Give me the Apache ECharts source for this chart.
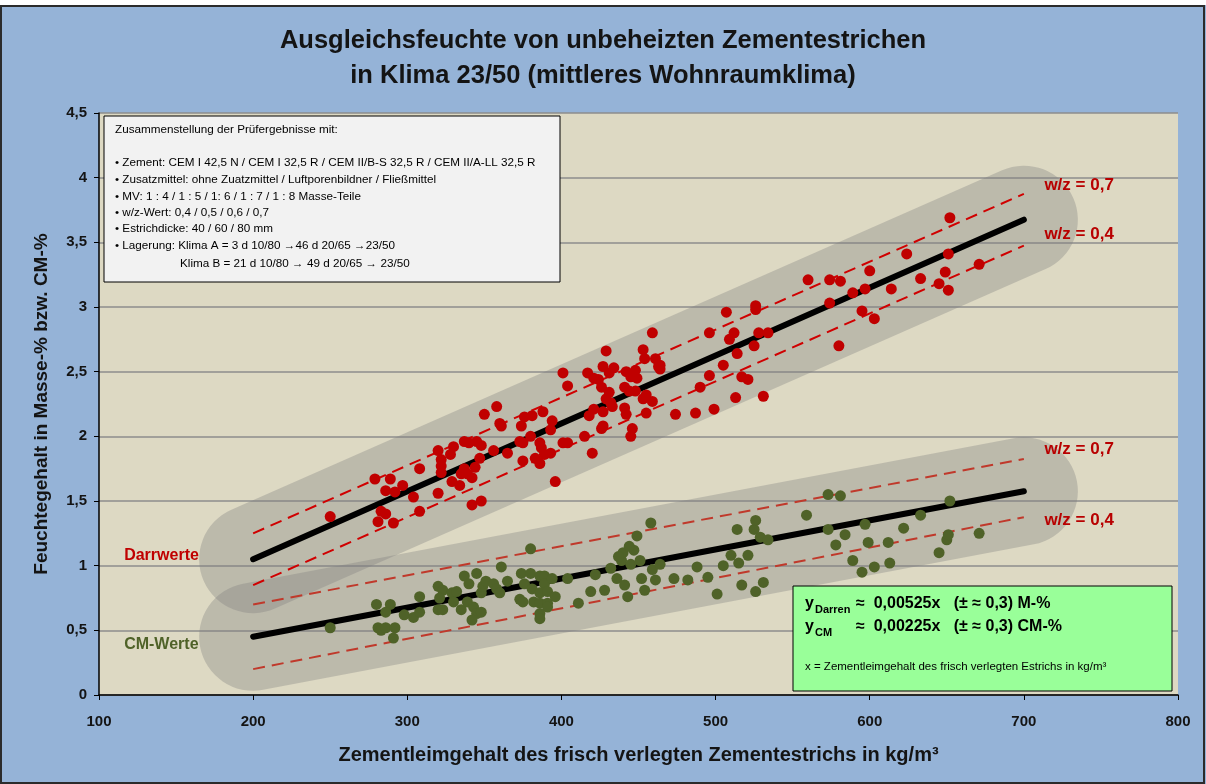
<!DOCTYPE html>
<html>
<head>
<meta charset="utf-8">
<script src="https://cdn.jsdelivr.net/npm/echarts@6/dist/echarts.min.js"></script>
<style>
  html, body { margin: 0; padding: 0; background: #fff; }
  #chart { width: 1206px; height: 784px; }
</style>
</head>
<body>
<div id="chart"></div>
<script>
// Darrwerte (M-%) und CM-Werte
const darrPoints = [
  [250,1.38],[279,1.67],[289,1.67],[286,1.58],[292,1.57],[297,1.62],[304,1.53],[308,1.75],[320,1.56],[308,1.42],
  [283,1.42],[286,1.40],[281,1.34],[291,1.33],[320,1.89],[322,1.82],[322,1.77],[322,1.72],[328,1.86],[330,1.92],
  [329,1.65],[334,1.62],[335,1.71],[337,1.75],[339,1.71],[342,1.68],[344,1.76],[342,1.47],[348,1.50],[337,1.96],
  [340,1.95],[345,1.96],[348,1.93],[350,2.17],[356,1.89],[347,1.83],[358,2.23],[360,2.10],[361,2.08],[365,1.87],
  [374,2.08],[376,2.15],[381,2.16],[388,2.19],[394,2.12],[380,2.00],[373,1.96],[375,1.95],[386,1.95],[387,1.91],
  [393,2.05],[389,1.86],[393,1.87],[383,1.83],[375,1.81],[386,1.79],[401,1.95],[404,1.95],[415,2.00],[420,1.87],
  [396,1.65],[401,2.49],[404,2.39],[417,2.49],[421,2.45],[424,2.44],[426,2.38],[427,2.54],[429,2.66],[431,2.49],
  [434,2.53],[431,2.34],[429,2.29],[432,2.26],[433,2.23],[421,2.21],[418,2.16],[427,2.19],[426,2.06],[427,2.08],
  [441,2.22],[442,2.17],[446,2.06],[445,2.00],[442,2.50],[445,2.46],[448,2.51],[449,2.45],[441,2.38],[444,2.35],
  [448,2.35],[453,2.67],[454,2.60],[459,2.80],[453,2.29],[455,2.32],[459,2.27],[455,2.18],[461,2.60],[463,2.54],
  [464,2.55],[464,2.52],[474,2.17],[487,2.18],[499,2.21],[490,2.38],[496,2.47],[505,2.55],[496,2.80],[507,2.96],
  [512,2.80],[509,2.75],[514,2.64],[517,2.46],[521,2.44],[513,2.30],[531,2.31],[526,3.01],[526,2.98],[525,2.70],
  [528,2.80],[534,2.80],[560,3.21],[574,3.21],[581,3.20],[574,3.03],[580,2.70],[589,3.11],[597,3.14],[600,3.28],
  [595,2.97],[603,2.91],[614,3.14],[624,3.41],[633,3.22],[645,3.18],[649,3.27],[651,3.13],[651,3.41],[652,3.69],
  [671,3.33]
];
const cmPoints = [
  [250,0.52],[280,0.70],[289,0.70],[286,0.64],[281,0.52],[283,0.50],[286,0.52],[292,0.52],[291,0.44],[298,0.62],
  [304,0.60],[308,0.64],[308,0.76],[320,0.84],[323,0.81],[321,0.75],[320,0.66],[323,0.66],[329,0.79],[330,0.72],
  [332,0.80],[335,0.66],[337,0.92],[340,0.86],[345,0.94],[339,0.72],[343,0.68],[345,0.63],[342,0.58],[348,0.64],
  [348,0.79],[349,0.84],[351,0.88],[356,0.86],[358,0.82],[360,0.79],[361,0.99],[365,0.88],[374,0.94],[380,0.94],
  [376,0.86],[381,0.82],[373,0.74],[375,0.72],[382,0.72],[386,0.92],[389,0.92],[389,0.86],[394,0.90],[386,0.79],
  [391,0.80],[386,0.71],[391,0.71],[391,0.68],[386,0.63],[386,0.59],[396,0.76],[380,1.13],[404,0.90],[411,0.71],
  [419,0.80],[422,0.93],[428,0.81],[432,0.98],[436,0.90],[439,1.04],[441,0.85],[445,1.01],[447,1.12],[449,1.23],
  [451,1.04],[452,0.90],[454,0.81],[459,0.97],[461,0.89],[464,1.01],[458,1.33],[443,0.76],[440,1.10],[444,1.15],
  [437,1.07],[473,0.90],[482,0.89],[488,0.99],[495,0.91],[501,0.78],[505,1.00],[510,1.08],[514,1.28],[515,1.02],
  [517,0.85],[521,1.08],[525,1.28],[526,1.35],[526,0.80],[529,1.22],[531,0.87],[534,1.20],[559,1.39],[573,1.55],
  [581,1.54],[573,1.28],[578,1.16],[584,1.24],[589,1.04],[595,0.95],[597,1.32],[599,1.18],[603,0.99],[612,1.18],
  [613,1.02],[622,1.29],[633,1.39],[645,1.10],[650,1.20],[651,1.24],[652,1.50],[671,1.25]
];

// Ausgleichsgeraden und Grenzlinien (Endpunkte)
const darrFit = [[200, 1.05], [700, 3.675]];
const darrUpper = [[200, 1.25], [700, 3.875]];
const darrLower = [[200, 0.85], [700, 3.475]];
const cmFit = [[200, 0.45], [700, 1.575]];
const cmUpper = [[200, 0.70], [700, 1.825]];
const cmLower = [[200, 0.20], [700, 1.375]];

const wzLabels = [
  { text: "w/z = 0,7", at: [713, 3.94] },
  { text: "w/z = 0,4", at: [713, 3.56] },
  { text: "w/z = 0,7", at: [713, 1.90] },
  { text: "w/z = 0,4", at: [713, 1.35] },
];
const groupLabels = [
  { text: "Darrwerte", at: [116, 1.08], color: "#C00000" },
  { text: "CM-Werte", at: [116, 0.39], color: "#4F6228" },
];

const FONT = "Liberation Sans";

const chart = echarts.init(document.getElementById("chart"));

const band = (data) => ({
  type: "line",
  data,
  symbol: "none",
  silent: true,
  z: 1,
  lineStyle: { width: 108, cap: "round", color: "rgba(125,125,125,0.34)" },
});
const dashed = (data, color) => ({
  type: "line",
  data,
  symbol: "none",
  z: 2,
  lineStyle: { width: 2, type: [12, 7], color },
});
const fit = (data) => ({
  type: "line",
  data,
  symbol: "none",
  z: 3,
  lineStyle: { width: 6, color: "#000", cap: "round" },
});

const annoLines = [
  "• Zement: CEM I 42,5 N / CEM I 32,5 R / CEM II/B-S 32,5 R / CEM II/A-LL 32,5 R",
  "• Zusatzmittel: ohne Zuatzmittel / Luftporenbildner / Fließmittel",
  "• MV: 1 : 4 / 1 : 5 / 1: 6 / 1 : 7 / 1 : 8 Masse-Teile",
  "• w/z-Wert: 0,4 / 0,5 / 0,6 / 0,7",
  "• Estrichdicke: 40 / 60 / 80 mm",
  "• Lagerung: Klima A = 3 d 10/80 →46 d 20/65 →23/50",
];
const annoY = [163, 180, 197, 213, 229, 246];
const annoFont = "11.7px " + FONT;

const graphics = [
  { type: "rect", z: 100, shape: { x: 0, y: 0, width: 1206, height: 5 }, style: { fill: "#fff" } },
  { type: "rect", z: 100, shape: { x: 1, y: 6, width: 1203, height: 777 },
    style: { fill: null, stroke: "#2b2b2b", lineWidth: 2 } },
  { type: "rect", z: 100, shape: { x: 104, y: 116, width: 456, height: 166 },
    style: { fill: "#F2F2F2", stroke: "#000", lineWidth: 1 } },
  { type: "text", z: 101, x: 115, y: 130,
    style: { text: "Zusammenstellung der Prüfergebnisse mit:", font: annoFont, fill: "#000", verticalAlign: "middle" } },
  ...annoLines.map((t, i) => ({
    type: "text", z: 101, x: 115, y: annoY[i],
    style: { text: t, font: annoFont, fill: "#000", verticalAlign: "middle" },
  })),
  { type: "text", z: 101, x: 180, y: 264,
    style: { text: "Klima B = 21 d 10/80 → 49 d 20/65 → 23/50", font: annoFont, fill: "#000", verticalAlign: "middle" } },
  { type: "rect", z: 100, shape: { x: 793, y: 586, width: 379, height: 105 },
    style: { fill: "#99FF99", stroke: "#000", lineWidth: 1 } },
  { type: "text", z: 101, x: 805, y: 612,
    style: { text: "y", font: "bold 16px " + FONT, fill: "#000", verticalAlign: "bottom" } },
  { type: "text", z: 101, x: 815, y: 615,
    style: { text: "Darren", font: "bold 11px " + FONT, fill: "#000", verticalAlign: "bottom" } },
  { type: "text", z: 101, x: 856, y: 612,
    style: { text: "≈  0,00525x   (± ≈ 0,3) M-%", font: "bold 16px " + FONT, fill: "#000", verticalAlign: "bottom" } },
  { type: "text", z: 101, x: 805, y: 635,
    style: { text: "y", font: "bold 16px " + FONT, fill: "#000", verticalAlign: "bottom" } },
  { type: "text", z: 101, x: 815, y: 638,
    style: { text: "CM", font: "bold 11px " + FONT, fill: "#000", verticalAlign: "bottom" } },
  { type: "text", z: 101, x: 856, y: 635,
    style: { text: "≈  0,00225x   (± ≈ 0,3) CM-%", font: "bold 16px " + FONT, fill: "#000", verticalAlign: "bottom" } },
  { type: "text", z: 101, x: 805, y: 667,
    style: { text: "x = Zementleimgehalt des frisch verlegten Estrichs in kg/m³", font: "11.5px " + FONT, fill: "#000", verticalAlign: "middle" } },
];

const option = {
  backgroundColor: "#95B3D7",
  animation: false,
  title: {
    text: "Ausgleichsfeuchte von unbeheizten Zementestrichen\nin Klima 23/50 (mittleres Wohnraumklima)",
    left: "center",
    top: 18,
    textStyle: { fontFamily: FONT, fontSize: 25.5, fontWeight: "bold", color: "#141414", lineHeight: 35 },
  },
  grid: {
    left: 99, right: 28, top: 113, bottom: 89,
    show: true, backgroundColor: "#DDD9C3", borderWidth: 0,
  },
  xAxis: {
    type: "value",
    min: 100, max: 800, interval: 100,
    name: "Zementleimgehalt des frisch verlegten Zementestrichs in kg/m³",
    nameLocation: "middle",
    nameGap: 50,
    nameTextStyle: { fontFamily: FONT, fontSize: 20, fontWeight: "bold", color: "#141414" },
    axisLine: { lineStyle: { color: "#000", width: 1.5 } },
    axisTick: { length: 5, lineStyle: { color: "#000" } },
    axisLabel: { margin: 19, fontFamily: FONT, fontSize: 15, fontWeight: "bold", color: "#141414" },
    splitLine: { show: false },
  },
  yAxis: {
    type: "value",
    min: 0, max: 4.5, interval: 0.5,
    name: "Feuchtegehalt in Masse-% bzw. CM-%",
    nameLocation: "middle",
    nameGap: 48,
    nameTextStyle: { fontFamily: FONT, fontSize: 19, fontWeight: "bold", color: "#141414" },
    axisLine: { lineStyle: { color: "#000", width: 1.5 } },
    axisTick: { length: 5, lineStyle: { color: "#000" } },
    axisLabel: {
      margin: 12, fontFamily: FONT, fontSize: 15, fontWeight: "bold", color: "#141414",
      formatter: (v) => String(v).replace(".", ","),
    },
    splitLine: { lineStyle: { color: "#8C8C8C", width: 1.5 } },
  },
  series: [
    band(darrFit),
    band(cmFit),
    dashed(darrUpper, "#D00000"),
    dashed(darrLower, "#D00000"),
    dashed(cmUpper, "#C0392B"),
    dashed(cmLower, "#C0392B"),
    fit(darrFit),
    fit(cmFit),
    {
      type: "scatter", data: darrPoints, symbolSize: 11, z: 4,
      itemStyle: { color: "#C00000", opacity: 1 },
    },
    {
      type: "scatter", data: cmPoints, symbolSize: 11, z: 4,
      itemStyle: { color: "#4F6228", opacity: 1 },
    },
    {
      type: "scatter", silent: true, z: 5, symbolSize: 1,
      itemStyle: { color: "#DDD9C3", opacity: 0 },
      data: wzLabels.map((l) => ({ value: l.at, name: l.text })),
      label: {
        show: true, position: "right", distance: 0, formatter: "{b}", opacity: 1,
        fontFamily: FONT, fontSize: 17, fontWeight: "bold", color: "#B80000",
      },
    },
    {
      type: "scatter", silent: true, z: 5, symbolSize: 1,
      itemStyle: { color: "#DDD9C3", opacity: 0 },
      data: groupLabels.map((l) => ({ value: l.at, name: l.text, label: { color: l.color } })),
      label: {
        show: true, position: "right", distance: 0, formatter: "{b}", opacity: 1,
        fontFamily: FONT, fontSize: 16, fontWeight: "bold",
      },
    },
  ],
  graphic: graphics,
};

chart.setOption(option);
</script>
</body>
</html>
